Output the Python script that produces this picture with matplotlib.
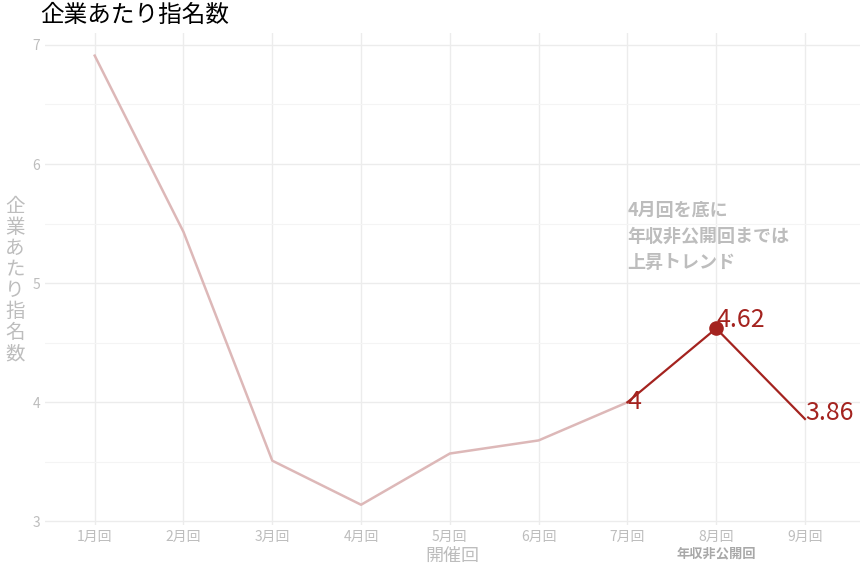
import matplotlib
matplotlib.use("Agg")
import matplotlib.pyplot as plt

plt.rcParams['font.family'] = ['Noto Sans CJK JP', 'DejaVu Sans']

months = ["1月回","2月回","3月回","4月回","5月回","6月回","7月回","8月回","9月回"]
values = [6.91, 5.43, 3.51, 3.14, 3.57, 3.68, 4.00, 4.62, 3.86]
x = list(range(1, 10))

fig = plt.figure(figsize=(8.64, 5.76), dpi=100)
ax = fig.add_axes([45/864, 1-525/576, 815/864, 492/576])
grey = "#bdbdbd"
light = "#ddb8b8"
red = "#a4231f"

ax.plot(x[:7], values[:7], color=light, lw=1.8)
ax.plot(x[6:], values[6:], color=red, lw=1.6)
ax.scatter([x[7]], [values[7]], color=red, s=90, zorder=3)
ax.text(x[6], values[6], "4", color=red, fontsize=18, va="center", ha="left")
ax.text(x[7], values[7] - 0.04, "4.62", color=red, fontsize=18, va="bottom", ha="left")
ax.text(x[8], values[8] + 0.05, "3.86", color=red, fontsize=18, va="center", ha="left")

ax.text(7.0, 5.39, "4月回を底に\n年収非公開回までは\n上昇トレンド", color=grey, fontsize=13,
        fontweight="bold", ha="left", va="center", linespacing=1.45)

ax.set_xlim(0.44, 9.62)
ax.set_ylim(2.97, 7.1)
ax.set_xticks(x)
ax.set_xticklabels(months)
ax.set_yticks([3, 4, 5, 6, 7])
ax.set_yticks([3.5, 4.5, 5.5, 6.5], minor=True)
ax.grid(True, which="major", color="#ececec", lw=1)
ax.grid(True, which="minor", axis="y", color="#f4f4f4", lw=0.8)
ax.tick_params(colors=grey, labelsize=10, length=0)
ax.tick_params(which="minor", length=0)
for s in ax.spines.values():
    s.set_visible(False)

ax.set_xlabel("開催回", color=grey, fontsize=13, labelpad=2)
fig.text(716/864, 1-553/576, "年収非公開回", color="#a8a8a8", fontsize=9.5, fontweight="bold",
         ha="center", va="center")
fig.text(15/864, 1-280/576, "企\n業\nあ\nた\nり\n指\n名\n数", color=grey, fontsize=14,
         ha="center", va="center", linespacing=1.0)
fig.text(40/864, 1-15/576, "企業あたり指名数", color="black", fontsize=17, ha="left", va="center")

fig.savefig("out.png", dpi=100)
